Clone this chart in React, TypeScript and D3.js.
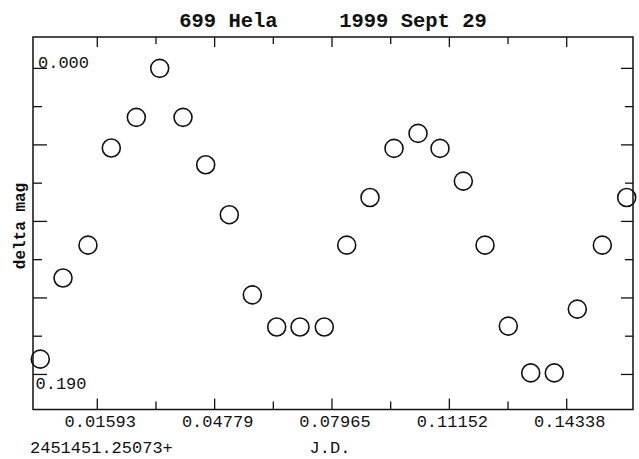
import React from "react";
import * as d3 from "d3";

const W = 639;
const H = 459;

const titleLeft = "699 Hela";
const titleRight = "1999 Sept 29";
const yAxisLabel = "delta mag";
const xAxisLabel = "J.D.";
const jdBase = "2451451.25073+";

// observation times (JD offset) and delta magnitudes
const jd = [0.00045, 0.00662, 0.0134, 0.01973, 0.02652, 0.03287, 0.0392, 0.04536, 0.05177, 0.05802, 0.06464, 0.07097, 0.07756, 0.08365, 0.08997, 0.09649, 0.10301, 0.10898, 0.11531, 0.1212, 0.12752, 0.13361, 0.14001, 0.14626, 0.15305, 0.15967];
const mag = [0.19, 0.137, 0.1155, 0.052, 0.032, 0.0, 0.032, 0.063, 0.0956, 0.148, 0.169, 0.169, 0.169, 0.1155, 0.0844, 0.0523, 0.0425, 0.0523, 0.0737, 0.1155, 0.1684, 0.199, 0.199, 0.1573, 0.1155, 0.0844];

const xTicks = [0.01593, 0.03186, 0.04779, 0.06372, 0.07965, 0.09559, 0.11152, 0.12745, 0.14338];
const xTickLabels = ["0.01593", "", "0.04779", "", "0.07965", "", "0.11152", "", "0.14338"];
const yTicks = [0, 0.025, 0.05, 0.075, 0.1, 0.125, 0.15, 0.175, 0.2];
const yTopLabel = "0.000";
const yBottomLabel = "0.190";

const xDomain = [-0.00153, 0.16138];
const yDomain = [-0.0205, 0.2229];

const L = 33, R = 633, T = 37, B = 409.5;

export default function App() {
  const x = d3.scaleLinear().domain(xDomain).range([L, R]);
  const y = d3.scaleLinear().domain(yDomain).range([T, B]);
  const font = "'Liberation Mono', 'DejaVu Sans Mono', monospace";
  const stroke = "#111";

  return (
    <svg
      width={W}
      height={H}
      style={{ position: "absolute", left: 0, top: 0, background: "#fff" }}
      fontFamily={font}
    >
      <rect x={0} y={0} width={W} height={H} fill="#fff" />
      <text x={333} y={27} textAnchor="middle" fontSize={20.5} fontWeight="bold" fill={stroke} style={{ whiteSpace: "pre" }}>
        {titleLeft + "     " + titleRight}
      </text>
      <rect x={L} y={T} width={R - L} height={B - T} fill="none" stroke={stroke} strokeWidth={1.5} />
      {xTicks.map((t, i) => {
        const long = i % 2 === 0;
        return (
          <g key={"xt" + i}>
            <line x1={x(t)} x2={x(t)} y1={B} y2={B - (long ? 11 : 8)} stroke={stroke} strokeWidth={1.3} />
            <line x1={x(t)} x2={x(t)} y1={T} y2={T + (long ? 10 : 7)} stroke={stroke} strokeWidth={1.3} />
            {xTickLabels[i] && (
              <text x={x(t) + 3} y={427} textAnchor="middle" fontSize={17} fill={stroke}>
                {xTickLabels[i]}
              </text>
            )}
          </g>
        );
      })}
      {yTicks.map((t, i) => {
        const long = i % 2 === 0;
        return (
          <g key={"yt" + i}>
            <line x1={L} x2={L + (long ? 14 : 9)} y1={y(t)} y2={y(t)} stroke={stroke} strokeWidth={1.3} />
            <line x1={R} x2={R - (long ? 12 : 8)} y1={y(t)} y2={y(t)} stroke={stroke} strokeWidth={1.3} />
          </g>
        );
      })}
      <text x={38} y={67.5} fontSize={17} fill={stroke}>{yTopLabel}</text>
      <text x={35.5} y={389} fontSize={17} fill={stroke}>{yBottomLabel}</text>
      <text
        transform={`translate(24.5,226) rotate(-90)`}
        textAnchor="middle"
        fontSize={16}
        fontWeight="bold"
        fill={stroke}
      >
        {yAxisLabel}
      </text>
      <text x={30} y={453} fontSize={17} fill={stroke}>{jdBase}</text>
      <text x={330} y={453} textAnchor="middle" fontSize={17} fill={stroke}>{xAxisLabel}</text>
      {jd.map((v, i) => (
        <circle key={"p" + i} cx={x(v)} cy={y(mag[i])} r={9} fill="none" stroke={stroke} strokeWidth={1.6} />
      ))}
    </svg>
  );
}
